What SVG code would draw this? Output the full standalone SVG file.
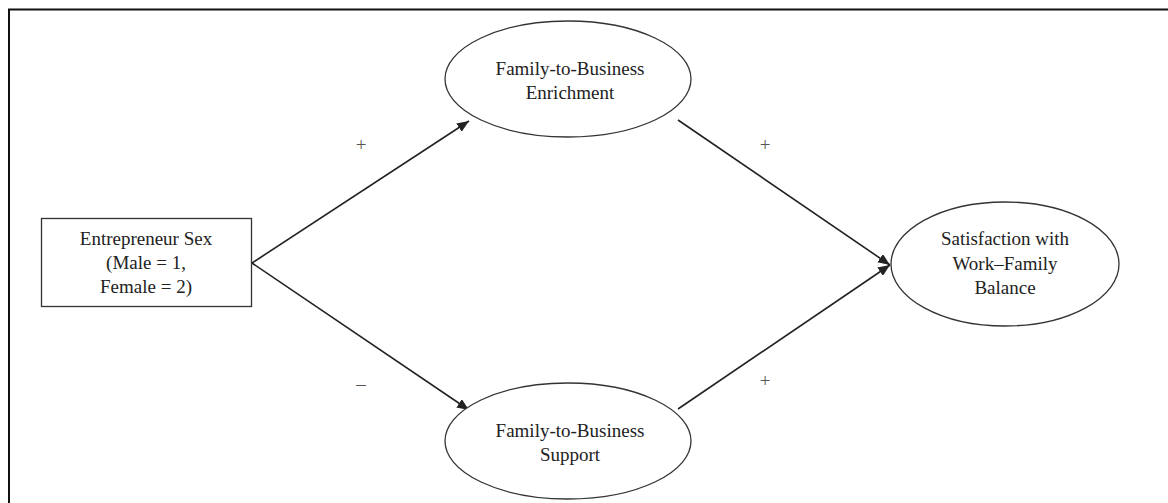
<svg xmlns="http://www.w3.org/2000/svg" width="1168" height="503" viewBox="0 0 1168 503">
<style>
.t{font-family:"Liberation Serif","Times New Roman",serif;font-size:19px;fill:#222;text-anchor:middle}
.s{font-family:"Liberation Serif","Times New Roman",serif;font-size:19px;fill:#555;text-anchor:middle}
.n{fill:#fff;stroke:#333;stroke-width:1.3}
.c{stroke:#222;stroke-width:1.6;fill:none}
</style>
<defs>
<marker id="ah" viewBox="0 0 12 10" refX="12" refY="5" markerWidth="12" markerHeight="10" markerUnits="userSpaceOnUse" orient="auto">
<path d="M0,0 L12,5 L0,10 z" fill="#222"/>
</marker>
</defs>
<rect width="1168" height="503" fill="#fff"/>
<path d="M9,503 V9.5 H1168" fill="none" stroke="#111" stroke-width="2"/>
<g id="connectors">
<line class="c" x1="252" y1="263" x2="469" y2="121" marker-end="url(#ah)"/>
<line class="c" x1="252" y1="263" x2="469" y2="410" marker-end="url(#ah)"/>
<line class="c" x1="678" y1="120" x2="890" y2="265" marker-end="url(#ah)"/>
<line class="c" x1="678" y1="409" x2="890" y2="265" marker-end="url(#ah)"/>
<text class="s" x="361" y="151">+</text>
<text class="s" x="765" y="151">+</text>
<text class="s" x="361" y="390">–</text>
<text class="s" x="765" y="387">+</text>
</g>
<g id="entrepreneur-sex">
<rect class="n" x="41.5" y="218.5" width="210" height="88"/>
<text class="t" x="146" y="245">Entrepreneur Sex</text>
<text class="t" x="146" y="269">(Male = 1,</text>
<text class="t" x="146" y="293">Female = 2)</text>
</g>
<g id="fb-enrichment">
<ellipse class="n" cx="568" cy="79" rx="123" ry="58"/>
<text class="t" x="570" y="75">Family-to-Business</text>
<text class="t" x="570" y="99">Enrichment</text>
</g>
<g id="fb-support">
<ellipse class="n" cx="568" cy="441" rx="123" ry="58"/>
<text class="t" x="570" y="437">Family-to-Business</text>
<text class="t" x="570" y="461">Support</text>
</g>
<g id="satisfaction">
<ellipse class="n" cx="1005" cy="264" rx="114" ry="62"/>
<text class="t" x="1005" y="245">Satisfaction with</text>
<text class="t" x="1005" y="270">Work–Family</text>
<text class="t" x="1005" y="294">Balance</text>
</g>
</svg>
